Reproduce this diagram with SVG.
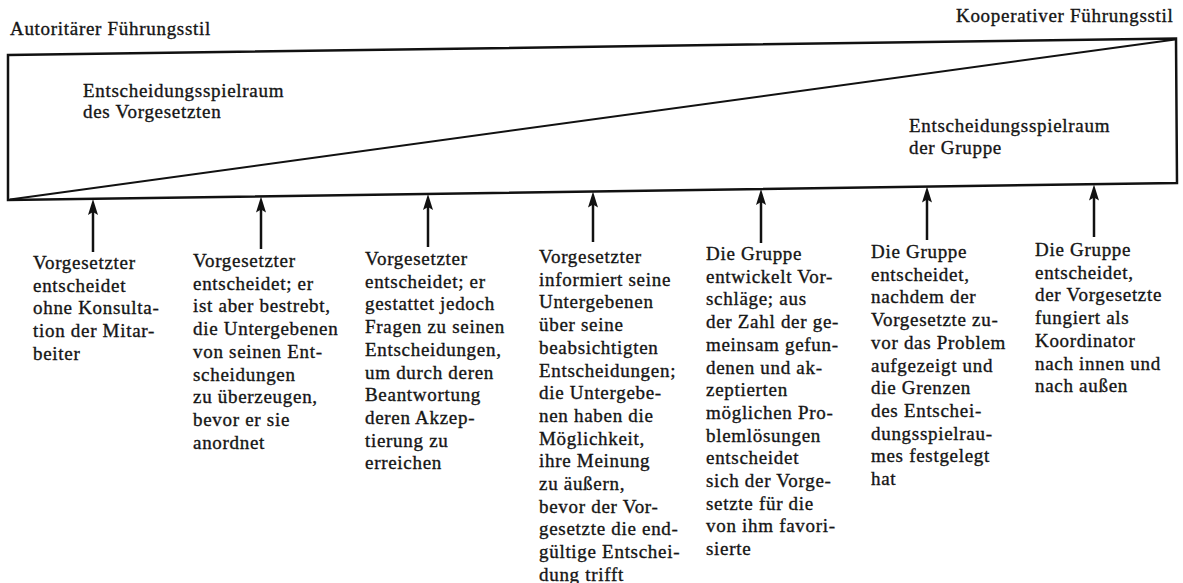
<svg xmlns="http://www.w3.org/2000/svg" width="1183" height="583" viewBox="0 0 1183 583">
<style>
text{font-family:"Liberation Serif","Times New Roman",serif;font-size:19px;letter-spacing:0.7px;fill:#151515;stroke:#151515;stroke-width:0.35}
.frame{fill:none;stroke:#111;stroke-width:2.5;stroke-linejoin:miter}
.diag{fill:none;stroke:#111;stroke-width:2}
.arrow{stroke:#111;stroke-width:2.5;marker-end:url(#head)}
</style>
<defs>
<marker id="head" viewBox="0 0 16 10" refX="10" refY="5" markerWidth="16" markerHeight="10" markerUnits="userSpaceOnUse" orient="auto">
<path d="M0,0 L16,5 L0,10 L3,5 Z" fill="#111"/>
</marker>
</defs>
<rect width="1183" height="583" fill="#fff"/>
<g id="header">
<text x="10" y="35">Autoritärer Führungsstil</text>
<text x="956" y="22">Kooperativer Führungsstil</text>
</g>
<g id="scale">
<polygon class="frame" points="8,55 1176,38.5 1177,183 8,200"/>
<line class="diag" x1="10" y1="199.5" x2="1175" y2="39.5"/>
<text x="83" y="97">Entscheidungsspielraum</text>
<text x="83" y="118">des Vorgesetzten</text>
<text x="909" y="132">Entscheidungsspielraum</text>
<text x="909" y="154">der Gruppe</text>
</g>
<g id="connectors">
<line class="arrow" x1="93" y1="252" x2="93" y2="205"/>
<line class="arrow" x1="261" y1="249" x2="261" y2="202.5"/>
<line class="arrow" x1="428" y1="247" x2="428" y2="200"/>
<line class="arrow" x1="593" y1="242" x2="593" y2="197.5"/>
<line class="arrow" x1="761" y1="243" x2="761" y2="195"/>
<line class="arrow" x1="927" y1="240" x2="927" y2="192.5"/>
<line class="arrow" x1="1094" y1="237" x2="1094" y2="190.5"/>
</g>
<g id="n1">
<text x="33" y="269">Vorgesetzter</text>
<text x="33" y="291.7">entscheidet</text>
<text x="33" y="314.4">ohne Konsulta-</text>
<text x="33" y="337.1">tion der Mitar-</text>
<text x="33" y="359.8">beiter</text>
</g>
<g id="n2">
<text x="193" y="267">Vorgesetzter</text>
<text x="193" y="289.7">entscheidet; er</text>
<text x="193" y="312.4">ist aber bestrebt,</text>
<text x="193" y="335.1">die Untergebenen</text>
<text x="193" y="357.8">von seinen Ent-</text>
<text x="193" y="380.5">scheidungen</text>
<text x="193" y="403.2">zu überzeugen,</text>
<text x="193" y="425.9">bevor er sie</text>
<text x="193" y="448.6">anordnet</text>
</g>
<g id="n3">
<text x="365" y="265">Vorgesetzter</text>
<text x="365" y="287.7">entscheidet; er</text>
<text x="365" y="310.4">gestattet jedoch</text>
<text x="365" y="333.1">Fragen zu seinen</text>
<text x="365" y="355.8">Entscheidungen,</text>
<text x="365" y="378.5">um durch deren</text>
<text x="365" y="401.2">Beantwortung</text>
<text x="365" y="423.9">deren Akzep-</text>
<text x="365" y="446.6">tierung zu</text>
<text x="365" y="469.3">erreichen</text>
</g>
<g id="n4">
<text x="539" y="263">Vorgesetzter</text>
<text x="539" y="285.7">informiert seine</text>
<text x="539" y="308.4">Untergebenen</text>
<text x="539" y="331.1">über seine</text>
<text x="539" y="353.8">beabsichtigten</text>
<text x="539" y="376.5">Entscheidungen;</text>
<text x="539" y="399.2">die Untergebe-</text>
<text x="539" y="421.9">nen haben die</text>
<text x="539" y="444.6">Möglichkeit,</text>
<text x="539" y="467.3">ihre Meinung</text>
<text x="539" y="490">zu äußern,</text>
<text x="539" y="512.7">bevor der Vor-</text>
<text x="539" y="535.4">gesetzte die end-</text>
<text x="539" y="558.1">gültige Entschei-</text>
<text x="539" y="580.5">dung trifft</text>
</g>
<g id="n5">
<text x="706" y="260">Die Gruppe</text>
<text x="706" y="282.7">entwickelt Vor-</text>
<text x="706" y="305.4">schläge; aus</text>
<text x="706" y="328.1">der Zahl der ge-</text>
<text x="706" y="350.8">meinsam gefun-</text>
<text x="706" y="373.5">denen und ak-</text>
<text x="706" y="396.2">zeptierten</text>
<text x="706" y="418.9">möglichen Pro-</text>
<text x="706" y="441.6">blemlösungen</text>
<text x="706" y="464.3">entscheidet</text>
<text x="706" y="487">sich der Vorge-</text>
<text x="706" y="509.7">setzte für die</text>
<text x="706" y="532.4">von ihm favori-</text>
<text x="706" y="555.1">sierte</text>
</g>
<g id="n6">
<text x="871" y="258">Die Gruppe</text>
<text x="871" y="280.7">entscheidet,</text>
<text x="871" y="303.4">nachdem der</text>
<text x="871" y="326.1">Vorgesetzte zu-</text>
<text x="871" y="348.8">vor das Problem</text>
<text x="871" y="371.5">aufgezeigt und</text>
<text x="871" y="394.2">die Grenzen</text>
<text x="871" y="416.9">des Entschei-</text>
<text x="871" y="439.6">dungsspielrau-</text>
<text x="871" y="462.3">mes festgelegt</text>
<text x="871" y="485">hat</text>
</g>
<g id="n7">
<text x="1035" y="256">Die Gruppe</text>
<text x="1035" y="278.7">entscheidet,</text>
<text x="1035" y="301.4">der Vorgesetzte</text>
<text x="1035" y="324.1">fungiert als</text>
<text x="1035" y="346.8">Koordinator</text>
<text x="1035" y="369.5">nach innen und</text>
<text x="1035" y="392.2">nach außen</text>
</g>
</svg>
